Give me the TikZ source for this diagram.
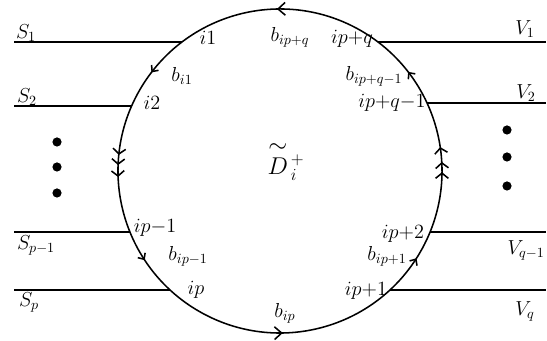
\documentclass[tikz,border=0pt]{standalone}
\usepackage{amsmath,amssymb}
\usetikzlibrary{calc}
\usetikzlibrary{arrows.meta}
\usetikzlibrary{decorations.markings}

\tikzset{
    bigbarb/.tip={Straight Barb[length=1.8mm,width=3.2mm]},
    midbarb/.tip={Straight Barb[length=1.3mm,width=3.2mm]},
    smallbarb/.tip={Straight Barb[length=1.2mm,width=2.2mm]}
}

\begin{document}
\begin{tikzpicture}[
    line width=1.1pt,
    lab/.style={font=\Large, inner sep=1pt},
    bullet/.style={circle, fill, inner sep=0pt, minimum size=2.3mm},
    boundary arrows/.style={
        postaction={decorate},
        decoration={
            markings,
            mark=at position 0.0864 with {\arrow{bigbarb}},
            mark=at position 0.2292 with {\arrow{smallbarb}},
            mark=at position 0.3175 with {\arrow{midbarb}},
            mark=at position 0.3275 with {\arrow{midbarb}},
            mark=at position 0.3392 with {\arrow{midbarb}},
            mark=at position 0.4261 with {\arrow{smallbarb}},
            mark=at position 0.5861 with {\arrow{bigbarb}},
            mark=at position 0.7428 with {\arrow{smallbarb}},
            mark=at position 0.8322 with {\arrow{midbarb}},
            mark=at position 0.8422 with {\arrow{midbarb}},
            mark=at position 0.8569 with {\arrow{midbarb}},
            mark=at position 0.9381 with {\arrow{smallbarb}}
        }
    }
]
\useasboundingbox (0,0) rectangle (13.675,8.525);

\coordinate (c) at (7,4.25);
\coordinate (sl) at (0.35,0);
\coordinate (vr) at (13.65,0);

% points where the strings meet the boundary
\coordinate (i1) at ([shift={(127.2:4.05)}]c);
\coordinate (i2) at ([shift={(156.3:4.05)}]c);
\coordinate (ipm) at ([shift={(202.1:4.05)}]c);
\coordinate (ip) at ([shift={(227.3:4.05)}]c);
\coordinate (ipa) at ([shift={(312.7:4.05)}]c);
\coordinate (ipb) at ([shift={(337.9:4.05)}]c);
\coordinate (iqm) at ([shift={(24.8:4.05)}]c);
\coordinate (iq) at ([shift={(52.8:4.05)}]c);

\draw[boundary arrows] ([shift={(60:4.05)}]c) arc[start angle=60, end angle=420, radius=4.05];

\draw (i1) -- (i1 -| sl);
\draw (i2) -- (i2 -| sl);
\draw (ipm) -- (ipm -| sl);
\draw (ip) -- (ip -| sl);
\draw (iq) -- (iq -| vr);
\draw (iqm) -- (iqm -| vr);
\draw (ipb) -- (ipb -| vr);
\draw (ipa) -- (ipa -| vr);

\node[lab] (s1) at (0.65,7.7) {$S_1$};
\node[lab] (s2) at (0.675,6.1) {$S_2$};
\node[lab] (spm) at (0.9,2.4) {$S_{p-1}$};
\node[lab] (sp) at (0.725,0.975) {$S_p$};
\node[lab] (v1) at (13.125,7.8) {$V_1$};
\node[lab] (v2) at (13.15,6.2) {$V_2$};
\node[lab] (vqm) at (13.15,2.275) {$V_{q-1}$};
\node[lab] (vq) at (13.125,0.75) {$V_q$};

\foreach \y [count=\k] in {4.975,4.35,3.7}
    \node[bullet] (ldot\k) at (1.425,\y) {};
\foreach \y [count=\k] in {5.275,4.6,3.875}
    \node[bullet] (rdot\k) at (12.675,\y) {};

\node[lab] (li1) at (5.2,7.575) {$i1$};
\node[lab] (lb1) at (4.55,6.625) {$b_{i1}$};
\node[lab] (li2) at (3.8,5.95) {$i2$};
\node[lab] (lbq) at (7.25,7.6) {$b_{ip+q}$};
\node[lab] (liq) at (8.8,7.55) {$ip{+}q$};
\node[lab] (lbqm) at (9.35,6.62) {$b_{ip+q-1}$};
\node[lab] (liqm) at (9.8,5.96) {$ip{+}q{-}1$};
\node[lab] (lipm) at (3.875,2.825) {$ip{-}1$};
\node[lab] (lbpm) at (4.7,2.125) {$b_{ip-1}$};
\node[lab] (lip) at (4.9,1.275) {$ip$};
\node[lab] (lbp) at (7.125,0.7) {$b_{ip}$};
\node[lab] (lipa) at (9.15,1.25) {$ip{+}1$};
\node[lab] (lbpa) at (9.675,2.125) {$b_{ip+1}$};
\node[lab] (lipb) at (10.075,2.675) {$ip{+}2$};

\node[font=\LARGE] (d) at (7.15,4.5) {$\overset{\textstyle\sim}{D}{}^{\,+}_{\,i}$};
\end{tikzpicture}
\end{document}
